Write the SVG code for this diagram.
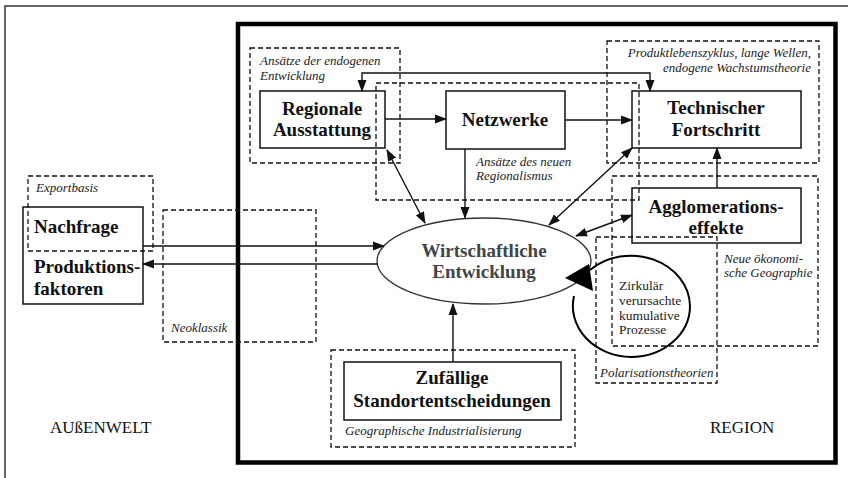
<svg xmlns="http://www.w3.org/2000/svg" width="848" height="478" viewBox="0 0 848 478">
<style>
.dash{fill:none;stroke:#111;stroke-width:1.3;stroke-dasharray:5,3}
.box{fill:none;stroke:#111;stroke-width:1.5}
.lbl{font-family:"Liberation Serif",serif;font-weight:bold;font-size:19px;fill:#111}
.it{font-family:"Liberation Serif",serif;font-style:italic;font-size:13px;fill:#222}
.reg{font-family:"Liberation Serif",serif;font-size:17px;fill:#111}
.sm{font-family:"Liberation Serif",serif;font-size:13.5px;fill:#222}
.con{fill:none;stroke:#111;stroke-width:1.4}
</style>
<defs>
<marker id="ah" markerUnits="userSpaceOnUse" markerWidth="12" markerHeight="10" refX="11" refY="4.5" orient="auto-start-reverse" viewBox="0 0 12 9">
<path d="M0,0 L12,4.5 L0,9 z" fill="#111"/>
</marker>
</defs>
<rect width="848" height="478" fill="#fff"/>
<path d="M5,478 V6 H848" fill="none" stroke="#333" stroke-width="1.5"/>
<rect x="238" y="24" width="597.5" height="438.5" fill="none" stroke="#000" stroke-width="4.5"/>

<g id="theories">
<rect class="dash" x="250" y="48" width="150" height="115"/>
<text class="it" x="260" y="65">Ansätze der endogenen</text>
<text class="it" x="260" y="80">Entwicklung</text>
<rect class="dash" x="376" y="83" width="263" height="117"/>
<text class="it" x="476" y="166">Ansätze des neuen</text>
<text class="it" x="476" y="180">Regionalismus</text>
<rect class="dash" x="607" y="41" width="212" height="122"/>
<text class="it" x="811" y="57" text-anchor="end">Produktlebenszyklus, lange Wellen,</text>
<text class="it" x="811" y="72" text-anchor="end">endogene Wachstumstheorie</text>
<rect class="dash" x="612" y="176" width="206" height="170"/>
<text class="it" x="724" y="263">Neue ökonomi-</text>
<text class="it" x="724" y="277">sche Geographie</text>
<rect class="dash" x="596" y="237" width="121" height="146"/>
<text class="it" x="600" y="377">Polarisationstheorien</text>
<rect class="dash" x="331" y="350" width="244" height="97"/>
<text class="it" x="345" y="435">Geographische Industrialisierung</text>
<rect class="dash" x="28" y="176" width="125" height="75"/>
<text class="it" x="36" y="192">Exportbasis</text>
<rect class="dash" x="163" y="210" width="153" height="132"/>
<text class="it" x="171" y="332">Neoklassik</text>
</g>

<g id="n-regionale">
<rect class="box" x="260" y="91" width="125" height="57"/>
<text class="lbl" x="322" y="115" text-anchor="middle">Regionale</text>
<text class="lbl" x="322" y="136" text-anchor="middle">Ausstattung</text>
</g>
<g id="n-netzwerke">
<rect class="box" x="446" y="91" width="119" height="58"/>
<text class="lbl" x="505" y="126" text-anchor="middle">Netzwerke</text>
</g>
<g id="n-technischer">
<rect class="box" x="632" y="91" width="169" height="57"/>
<text class="lbl" x="716" y="114" text-anchor="middle">Technischer</text>
<text class="lbl" x="716" y="136" text-anchor="middle">Fortschritt</text>
</g>
<g id="n-agglo">
<rect class="box" x="632" y="188" width="169" height="55"/>
<text class="lbl" x="716" y="213" text-anchor="middle">Agglomerations-</text>
<text class="lbl" x="716" y="234" text-anchor="middle">effekte</text>
</g>
<g id="n-wirtschaft">
<ellipse cx="484" cy="261" rx="107" ry="43" fill="none" stroke="#333" stroke-width="1.3"/>
<text class="lbl" x="484" y="257" text-anchor="middle" style="fill:#444">Wirtschaftliche</text>
<text class="lbl" x="484" y="278" text-anchor="middle" style="fill:#444">Entwicklung</text>
</g>
<g id="n-zirkular">
<path d="M590,270 A59,51 0 0,1 690,306 A59,51 0 0,1 631,357 A59,51 0 0,1 574,296" fill="none" stroke="#000" stroke-width="2"/>
<path d="M565,278 L589,264 L593,291 z" fill="#000"/>
<text class="sm" x="619" y="290">Zirkulär</text>
<text class="sm" x="619" y="305">verursachte</text>
<text class="sm" x="619" y="320">kumulative</text>
<text class="sm" x="619" y="334">Prozesse</text>
</g>
<g id="n-zufaellig">
<rect class="box" x="344" y="362" width="217" height="58"/>
<text class="lbl" x="452" y="384" text-anchor="middle">Zufällige</text>
<text class="lbl" x="452" y="407" text-anchor="middle">Standortentscheidungen</text>
</g>
<g id="n-nachfrage">
<rect class="box" x="23" y="207" width="120" height="97"/>
<text class="lbl" x="34" y="233">Nachfrage</text>
<text class="lbl" x="34" y="273">Produktions-</text>
<text class="lbl" x="34" y="295">faktoren</text>
</g>

<g id="connectors">
<path class="con" d="M362,91 V73 H650 V91" marker-start="url(#ah)" marker-end="url(#ah)"/>
<path class="con" d="M385,119 H446" marker-end="url(#ah)"/>
<path class="con" d="M565,120 H632" marker-end="url(#ah)"/>
<path class="con" d="M465,149 V218" marker-end="url(#ah)"/>
<path class="con" d="M387,150 L425,223" marker-start="url(#ah)" marker-end="url(#ah)"/>
<path class="con" d="M632,148 L549,225" marker-start="url(#ah)" marker-end="url(#ah)"/>
<path class="con" d="M632,215 L576,236" marker-start="url(#ah)" marker-end="url(#ah)"/>
<path class="con" d="M717,188 V148" marker-end="url(#ah)"/>
<path class="con" d="M453,362 V304" marker-end="url(#ah)"/>
<path class="con" d="M143,246 H384" marker-end="url(#ah)"/>
<path class="con" d="M378,264 H143" marker-end="url(#ah)"/>
</g>

<text class="reg" x="50" y="433">AUßENWELT</text>
<text class="reg" x="710" y="433">REGION</text>
</svg>
